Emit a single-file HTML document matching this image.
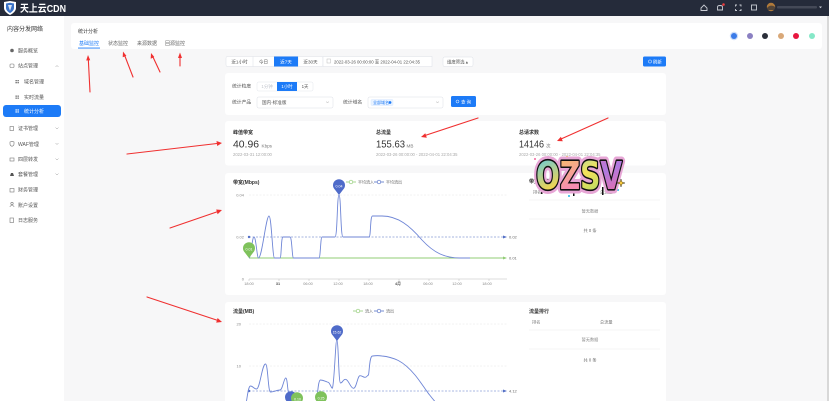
<!DOCTYPE html>
<html><head><meta charset="utf-8">
<style>
html,body{margin:0;padding:0;width:829px;height:401px;overflow:hidden;background:#f7f7f8}
svg{display:block}
text{font-family:"Liberation Sans","Noto Sans CJK SC",sans-serif}
</style></head>
<body>
<svg width="829" height="401" viewBox="0 0 829 401" xmlns="http://www.w3.org/2000/svg">
<defs>
  <linearGradient id="gO" x1="0" y1="0" x2="1" y2="1">
    <stop offset="0" stop-color="#55c8ee"/><stop offset="0.5" stop-color="#f7d54a"/><stop offset="1" stop-color="#55c8ee"/>
  </linearGradient>
  <linearGradient id="gZ" x1="0" y1="0" x2="1" y2="1">
    <stop offset="0" stop-color="#f7d54a"/><stop offset="0.6" stop-color="#f58bb5"/><stop offset="1" stop-color="#f7d54a"/>
  </linearGradient>
  <linearGradient id="gS" x1="0" y1="0" x2="1" y2="1">
    <stop offset="0" stop-color="#6fc7f2"/><stop offset="0.5" stop-color="#f3e35a"/><stop offset="1" stop-color="#8fd36a"/>
  </linearGradient>
  <linearGradient id="gV" x1="0" y1="0" x2="1" y2="1">
    <stop offset="0" stop-color="#f56a9c"/><stop offset="0.6" stop-color="#b07ae0"/><stop offset="1" stop-color="#f56a9c"/>
  </linearGradient>
</defs>

<rect width="829" height="401" fill="#f7f7f8"/>
<rect x="827" y="16" width="2" height="385" fill="#d8d8d8"/>

<!-- top bar -->
<rect width="829" height="16" fill="#252b3a"/>
<path d="M4,2 L10,1 L16,2 L16,8 C16,11 13,13.5 10,15 C7,13.5 4,11 4,8 Z" fill="#fff"/>
<path d="M6,3.5 L10,2.8 L14,3.5 L14,8 C14,10 12,12 10,13 C8,12 6,10 6,8 Z" fill="#3a73c8"/>
<path d="M8,5 L12,5 L10,11 Z" fill="#fff" opacity="0.8"/>
<text x="20" y="11.8" font-size="10" fill="#fff" font-weight="bold" textLength="46" lengthAdjust="spacingAndGlyphs">天上云CDN</text>
<!-- right icons -->
<g fill="none" stroke="#c9ccd4" stroke-width="0.9">
  <path d="M701,8 L704,5 L707,8 L707,10.5 L701,10.5 Z"/>
  <path d="M717.5,10 L717.5,7 C717.5,5 722.5,5 722.5,7 L722.5,10 Z"/>
  <path d="M735.5,6.5 L735.5,5 L737,5 M739.5,5 L741,5 L741,6.5 M741,9 L741,10.5 L739.5,10.5 M737,10.5 L735.5,10.5 L735.5,9"/>
  <rect x="751.5" y="5" width="5" height="5"/>
</g>
<circle cx="723.5" cy="4.5" r="1.3" fill="#f03c3c"/>
<circle cx="771" cy="7" r="4.2" fill="#b07a3a"/>
<path d="M767,8 C769,5 773,5 775,7 L775,10 L767,10 Z" fill="#2c2f38" opacity="0.7"/>
<rect x="777" y="6" width="40" height="2.5" rx="1" fill="#5a5e6a" opacity="0.6"/>
<path d="M819,6.5 L822,6.5 L820.5,8.2 Z" fill="#c9ccd4"/>

<!-- sidebar -->
<rect x="0" y="16" width="64" height="385" fill="#fff"/>
<text x="7" y="31" font-size="6" fill="#333">内容分发网络</text>
<g font-size="5" fill="#555">
  <circle cx="12" cy="50.5" r="1.8" fill="#666"/>
  <text x="18" y="52.5">服务概览</text>
  <rect x="10" y="64" width="4" height="3.5" rx="0.8" fill="none" stroke="#777" stroke-width="0.6"/>
  <text x="18" y="67.5">站点管理</text>
  <path d="M55.5,67 L57,65.5 L58.5,67" fill="none" stroke="#999" stroke-width="0.5"/>
  <g fill="#666"><rect x="15.5" y="80" width="1.3" height="1.3"/><rect x="17.5" y="80" width="1.3" height="1.3"/><rect x="15.5" y="82" width="1.3" height="1.3"/><rect x="17.5" y="82" width="1.3" height="1.3"/></g>
  <text x="24" y="83.5">域名管理</text>
  <g fill="#666"><rect x="15.5" y="95.5" width="1.3" height="1.3"/><rect x="17.5" y="95.5" width="1.3" height="1.3"/><rect x="15.5" y="97.5" width="1.3" height="1.3"/><rect x="17.5" y="97.5" width="1.3" height="1.3"/></g>
  <text x="24" y="99">实时流量</text>
</g>
<rect x="3" y="105" width="58" height="12" rx="3" fill="#1d7bf7"/>
<g fill="#fff"><rect x="15.5" y="109.3" width="1.3" height="1.3"/><rect x="17.5" y="109.3" width="1.3" height="1.3"/><rect x="15.5" y="111.3" width="1.3" height="1.3"/><rect x="17.5" y="111.3" width="1.3" height="1.3"/></g>
<text x="24" y="113" font-size="5" fill="#fff">统计分析</text>
<g font-size="5" fill="#555">
  <rect x="10" y="126.5" width="3.5" height="4" fill="none" stroke="#777" stroke-width="0.6"/>
  <text x="18" y="130">证书管理</text>
  <path d="M55.5,127.5 L57,129 L58.5,127.5" fill="none" stroke="#999" stroke-width="0.5"/>
  <path d="M10,142 L12,141.3 L14,142 L14,144 C14,145 13,146 12,146.3 C11,146 10,145 10,144 Z" fill="none" stroke="#777" stroke-width="0.6"/>
  <text x="18" y="146">WAF管理</text>
  <path d="M55.5,143 L57,144.5 L58.5,143" fill="none" stroke="#999" stroke-width="0.5"/>
  <rect x="10" y="158" width="4" height="3" fill="none" stroke="#777" stroke-width="0.6"/>
  <text x="18" y="161">四层转发</text>
  <path d="M55.5,158.5 L57,160 L58.5,158.5" fill="none" stroke="#999" stroke-width="0.5"/>
  <path d="M10,176 L11,173 L13,173 L14,176 Z" fill="#555"/>
  <text x="18" y="176">套餐管理</text>
  <path d="M55.5,173.5 L57,175 L58.5,173.5" fill="none" stroke="#999" stroke-width="0.5"/>
  <rect x="10" y="188.5" width="4" height="3.5" fill="none" stroke="#777" stroke-width="0.6"/>
  <text x="18" y="191.5">财务管理</text>
  <circle cx="12" cy="203.5" r="1.2" fill="none" stroke="#777" stroke-width="0.6"/>
  <path d="M10,207 C10,205 14,205 14,207" fill="none" stroke="#777" stroke-width="0.6"/>
  <text x="18" y="207">账户设置</text>
  <rect x="10" y="218" width="3.5" height="4.5" fill="none" stroke="#777" stroke-width="0.6"/>
  <text x="18" y="222">日志服务</text>
</g>

<!-- header card -->
<rect x="71" y="23" width="751" height="26" rx="3" fill="#fff"/>
<text x="78" y="33" font-size="5" fill="#333">统计分析</text>
<text x="79" y="45" font-size="5" fill="#1d7bf7">基础监控</text>
<rect x="78" y="47.6" width="22" height="0.9" fill="#1d7bf7"/>
<text x="108" y="45" font-size="5" fill="#666">状态监控</text>
<text x="137" y="45" font-size="5" fill="#666">来源数据</text>
<text x="165" y="45" font-size="5" fill="#666">回源监控</text>
<circle cx="734" cy="36" r="4.2" fill="#3b7be8" opacity="0.25"/>
<circle cx="734" cy="36" r="3" fill="#3b7be8"/>
<circle cx="750" cy="36" r="3" fill="#8b80c2"/>
<circle cx="765" cy="36" r="3" fill="#2b2f3a"/>
<circle cx="781" cy="36" r="3" fill="#d9a878"/>
<circle cx="796" cy="36" r="3" fill="#e8163f"/>
<circle cx="812" cy="36" r="3" fill="#86e8c8"/>

<!-- filter row -->
<g font-size="4.6" text-anchor="middle">
  <rect x="226" y="56.5" width="97" height="10" rx="1.5" fill="#fff" stroke="#dcdfe6" stroke-width="0.5"/>
  <line x1="253" y1="56.5" x2="253" y2="66.5" stroke="#dcdfe6" stroke-width="0.5"/>
  <line x1="298" y1="56.5" x2="298" y2="66.5" stroke="#dcdfe6" stroke-width="0.5"/>
  <rect x="274" y="56.5" width="24" height="10" fill="#1d7bf7"/>
  <text x="239.5" y="63.3" fill="#555">近1小时</text>
  <text x="263.5" y="63.3" fill="#555">今日</text>
  <text x="286" y="63.3" fill="#fff">近7天</text>
  <text x="310.5" y="63.3" fill="#555">近30天</text>
</g>
<rect x="323" y="56.5" width="109" height="10" fill="#fff" stroke="#dcdfe6" stroke-width="0.5"/>
<rect x="327" y="59" width="3.5" height="4" fill="none" stroke="#bbb" stroke-width="0.5"/>
<text x="334" y="63.3" font-size="4.6" fill="#555" textLength="86" lengthAdjust="spacingAndGlyphs">2022-03-26 00:00:00 至 2022-04-01 22:04:35</text>
<rect x="443" y="57" width="30" height="9.5" rx="1.5" fill="#fff" stroke="#dcdfe6" stroke-width="0.5"/>
<text x="447" y="63.3" font-size="4.4" fill="#555">维度筛选 ▴</text>
<rect x="643" y="56.5" width="23" height="10" rx="1.5" fill="#1d7bf7"/>
<circle cx="650" cy="61.5" r="1.6" fill="none" stroke="#fff" stroke-width="0.5"/>
<text x="653" y="63.3" font-size="4.4" fill="#fff">刷新</text>

<!-- filter card -->
<rect x="225" y="73" width="441" height="42" rx="3" fill="#fff"/>
<text x="232" y="87.5" font-size="4.8" fill="#555">统计粒度</text>
<rect x="257" y="82" width="56" height="9" rx="1.5" fill="#fff" stroke="#e4e7ed" stroke-width="0.5"/>
<rect x="277" y="82" width="20" height="9" fill="#1d7bf7"/>
<g font-size="4.4" text-anchor="middle">
  <text x="267" y="88" fill="#c0c4cc">1分钟</text>
  <text x="287" y="88" fill="#fff">1小时</text>
  <text x="305" y="88" fill="#555">1天</text>
</g>
<text x="232" y="103.5" font-size="4.8" fill="#555">统计产品</text>
<rect x="257" y="97" width="76" height="11" rx="1.5" fill="#fff" stroke="#dcdfe6" stroke-width="0.5"/>
<text x="262" y="103.8" font-size="4.6" fill="#555">国内-标准版</text>
<path d="M326,101.5 L327.5,103 L329,101.5" fill="none" stroke="#aaa" stroke-width="0.5"/>
<text x="343" y="103.5" font-size="4.8" fill="#555">统计域名</text>
<rect x="368" y="97" width="75" height="11" rx="1.5" fill="#fff" stroke="#dcdfe6" stroke-width="0.5"/>
<rect x="371" y="99.5" width="22" height="6" rx="1" fill="#eaf3ff" stroke="#cfe3ff" stroke-width="0.4"/>
<text x="373" y="103.8" font-size="4" fill="#1d7bf7">全部域名</text>
<circle cx="390" cy="102.5" r="1.4" fill="#1d7bf7"/>
<path d="M436,101.5 L437.5,103 L439,101.5" fill="none" stroke="#aaa" stroke-width="0.5"/>
<rect x="451" y="96" width="25" height="11" rx="1.5" fill="#1d7bf7"/>
<circle cx="457.5" cy="101.5" r="1.5" fill="none" stroke="#fff" stroke-width="0.5"/>
<text x="461" y="103.5" font-size="4.4" fill="#fff">查 询</text>

<!-- summary card -->
<rect x="225" y="121" width="441" height="44.5" rx="3" fill="#fff"/>
<g fill="#333">
  <text x="233" y="134" font-size="5" font-weight="bold">峰值带宽</text>
  <text x="233" y="147.5" font-size="10.5" fill="#333" textLength="26" lengthAdjust="spacingAndGlyphs">40.96</text>
  <text x="261.5" y="147.5" font-size="4.6" fill="#777">Kbps</text>
  <text x="233" y="156" font-size="4.2" fill="#aaa">2022-03-31 12:00:00</text>

  <text x="376" y="134" font-size="5" font-weight="bold">总流量</text>
  <text x="376" y="147.5" font-size="10.5" fill="#333" textLength="29" lengthAdjust="spacingAndGlyphs">155.63</text>
  <text x="406.5" y="147.5" font-size="4.6" fill="#777">MB</text>
  <text x="376" y="156" font-size="4.2" fill="#aaa">2022-03-26 00:00:00 - 2022-04-01 22:04:35</text>

  <text x="519" y="134" font-size="5" font-weight="bold">总请求数</text>
  <text x="519" y="147.5" font-size="10.5" fill="#333" textLength="25" lengthAdjust="spacingAndGlyphs">14146</text>
  <text x="546" y="147.5" font-size="4.6" fill="#777">次</text>
  <text x="519" y="156" font-size="4.2" fill="#aaa">2022-03-26 00:00:00 - 2022-04-01 22:04:35</text>
</g>

<!-- chart card 1 -->
<rect x="225" y="173" width="441" height="122" rx="3" fill="#fff"/>
<text x="233" y="184" font-size="5" fill="#333" font-weight="bold">带宽(Mbps)</text>
<!-- legend -->
<line x1="346" y1="182" x2="356" y2="182" stroke="#91cc75" stroke-width="0.8"/>
<circle cx="351" cy="182" r="1.8" fill="#fff" stroke="#91cc75" stroke-width="0.7"/>
<text x="358" y="183.6" font-size="4" fill="#666">平均流入</text>
<line x1="374" y1="182" x2="384" y2="182" stroke="#5470c6" stroke-width="0.8"/>
<circle cx="379" cy="182" r="1.8" fill="#fff" stroke="#5470c6" stroke-width="0.7"/>
<text x="386" y="183.6" font-size="4" fill="#666">平均流出</text>
<!-- axes -->
<g font-size="4" fill="#888" text-anchor="end">
  <text x="244" y="196.5">0.04</text>
  <text x="244" y="238.5">0.02</text>
  <text x="244" y="280.5">0</text>
</g>
<line x1="249" y1="195" x2="507" y2="195" stroke="#e6e6e6" stroke-width="0.5" stroke-dasharray="2,1.5"/>
<line x1="249" y1="237" x2="507" y2="237" stroke="#eeeeee" stroke-width="0.5" stroke-dasharray="2,1.5"/>
<line x1="249" y1="279" x2="507" y2="279" stroke="#bbb" stroke-width="0.6"/>
<g stroke="#bbb" stroke-width="0.5">
  <line x1="249" y1="279" x2="249" y2="281"/><line x1="279" y1="279" x2="279" y2="281"/><line x1="309" y1="279" x2="309" y2="281"/>
  <line x1="339" y1="279" x2="339" y2="281"/><line x1="369" y1="279" x2="369" y2="281"/><line x1="399" y1="279" x2="399" y2="281"/>
  <line x1="429" y1="279" x2="429" y2="281"/><line x1="459" y1="279" x2="459" y2="281"/><line x1="489" y1="279" x2="489" y2="281"/>
</g>
<g font-size="3.8" fill="#888" text-anchor="middle">
  <text x="249" y="285">18:00</text><text x="278" y="285" font-weight="bold" fill="#555">31</text><text x="308" y="285">06:00</text>
  <text x="338" y="285">12:00</text><text x="368" y="285">18:00</text><text x="398" y="285" font-weight="bold" fill="#555">4月</text>
  <text x="428" y="285">06:00</text><text x="457" y="285">12:00</text><text x="487" y="285">18:00</text>
</g>
<!-- green series -->
<line x1="249" y1="258" x2="505" y2="258" stroke="#91cc75" stroke-width="1"/>
<line x1="249" y1="258" x2="505" y2="258" stroke="#91cc75" stroke-width="0.5" stroke-dasharray="2,1.5"/>
<path d="M503,256.5 L507,258 L503,259.5 Z" fill="#91cc75"/>
<text x="509" y="259.5" font-size="4" fill="#666">0.01</text>
<!-- blue markline -->
<line x1="249" y1="237" x2="505" y2="237" stroke="#5470c6" stroke-width="0.5" stroke-dasharray="2,1.5"/>
<circle cx="249" cy="237" r="1.2" fill="#5470c6"/>
<path d="M503,235.5 L507,237 L503,238.5 Z" fill="#5470c6"/>
<text x="509" y="238.5" font-size="4" fill="#666">0.02</text>
<!-- blue series -->
<path d="M249,258 C251,258 252,237 254,237 C256,237 257,258 258.5,258 C262,258 266,216 269,216 C271.5,216 272.5,258 274.5,258 L280,258 C281.5,258 281,237 283,237 L290,237 C292,237 292,258 293.5,258 L319,258 C320.5,258 320.5,237 322,237 L335,237 C337.5,237 337,195 339,195 C341,195 340.5,237 343,237 L369,237 C371,237 370,216 372.5,216 L382,216 C398,216 410,226 422,240 C434,253 445,258 460,258 L470,258" fill="none" stroke="#6f86d6" stroke-width="0.9"/>
<!-- pins -->
<path d="M339,195 L334.8,189.5 A6,6 0 1,1 343.2,189.5 Z" fill="#4f6bc9"/>
<text x="339" y="187.5" font-size="3.6" fill="#fff" text-anchor="middle">0.04</text>
<path d="M249,258 L244.8,252.5 A6,6 0 1,1 253.2,252.5 Z" fill="#7fc25c"/>
<text x="249" y="250.5" font-size="3.6" fill="#fff" text-anchor="middle">0.01</text>
<!-- table 1 -->
<text x="529" y="183" font-size="5" fill="#333" font-weight="bold">带宽排行</text>
<text x="533" y="193.5" font-size="4.2" fill="#777">排名</text>
<text x="600" y="193.5" font-size="4.2" fill="#777">总流量</text>
<line x1="529" y1="200" x2="660" y2="200" stroke="#eee" stroke-width="0.6"/>
<text x="590" y="212.5" font-size="4.2" fill="#888" text-anchor="middle">暂无数据</text>
<line x1="529" y1="219" x2="660" y2="219" stroke="#eee" stroke-width="0.6"/>
<text x="590" y="232" font-size="4.2" fill="#666" text-anchor="middle">共 0 条</text>

<!-- chart card 2 -->
<rect x="225" y="302" width="441" height="110" rx="3" fill="#fff"/>
<text x="233" y="313" font-size="5" fill="#333" font-weight="bold">流量(MB)</text>
<line x1="353" y1="311" x2="363" y2="311" stroke="#91cc75" stroke-width="0.8"/>
<circle cx="358" cy="311" r="1.8" fill="#fff" stroke="#91cc75" stroke-width="0.7"/>
<text x="365" y="312.6" font-size="4" fill="#666">流入</text>
<line x1="374" y1="311" x2="384" y2="311" stroke="#5470c6" stroke-width="0.8"/>
<circle cx="379" cy="311" r="1.8" fill="#fff" stroke="#5470c6" stroke-width="0.7"/>
<text x="386" y="312.6" font-size="4" fill="#666">流出</text>
<g font-size="4" fill="#888" text-anchor="end">
  <text x="241" y="325.5">20</text>
  <text x="241" y="367.5">10</text>
</g>
<line x1="249" y1="324" x2="507" y2="324" stroke="#e6e6e6" stroke-width="0.5" stroke-dasharray="2,1.5"/>
<line x1="249" y1="366" x2="507" y2="366" stroke="#e6e6e6" stroke-width="0.5" stroke-dasharray="2,1.5"/>
<line x1="249" y1="391" x2="505" y2="391" stroke="#5470c6" stroke-width="0.5" stroke-dasharray="2,1.5"/>
<circle cx="249" cy="391" r="1.2" fill="#5470c6"/>
<path d="M503,389.5 L507,391 L503,392.5 Z" fill="#5470c6"/>
<text x="509" y="392.5" font-size="4" fill="#666">4.12</text>
<path d="M246.5,401 C247.5,395 248.5,386 250.5,386 C253,386 254,389 256.5,389 C260,389 262,364 265.5,364 C268,364 268,392 270.5,392 C274,392 277,390 280,390 C282.5,390 284,378 285.7,378 C287.5,378 287.5,391 288.5,392 C289.5,396 289.8,401 290,404 M316.5,404 C317.5,396 318,380 320.5,380 C324,380 326,382 328.3,382.3 C330,383 331.5,389 332.5,388 C334.5,380 335.5,340 336.8,340 C338.5,340 338.5,383 340.5,383 C342.5,383 343,379.3 345.5,379.3 C348.5,379.3 350.5,388.3 353.5,388.3 C356.5,388.3 357.5,375.7 360,375.7 C362.5,375.7 363,377.3 365,377.3 C367,377.3 367.5,375 368.5,375 C369.5,370 369.5,356 372.5,356 C376,355.5 379,355.5 382,356 C388,356.5 393,358 398.3,360.5 C405,364 410,369 415,375 C420,381 425,389 428.3,393.3 C432,398 435,402 438.3,405" fill="none" stroke="#6f86d6" stroke-width="0.9"/>
<path d="M337,341 L332.8,335.5 A6,6 0 1,1 341.2,335.5 Z" fill="#4f6bc9"/>
<text x="337" y="333.5" font-size="3.5" fill="#fff" text-anchor="middle">15.62</text>
<path d="M291,407 L286.8,401.5 A6,6 0 1,1 295.2,401.5 Z" fill="#4f6bc9"/>
<path d="M297,408 L292.8,402.5 A6,6 0 1,1 301.2,402.5 Z" fill="#7fc25c"/>
<text x="297.5" y="400.5" font-size="3.5" fill="#fff" text-anchor="middle">0.10</text>
<path d="M321,407 L316.8,401.5 A6,6 0 1,1 325.2,401.5 Z" fill="#7fc25c"/>
<text x="321" y="399.5" font-size="3.5" fill="#fff" text-anchor="middle">0.25</text>
<!-- table 2 -->
<text x="529" y="313" font-size="5" fill="#333" font-weight="bold">流量排行</text>
<text x="532" y="323.5" font-size="4.2" fill="#777">排名</text>
<text x="600" y="323.5" font-size="4.2" fill="#777">总流量</text>
<line x1="529" y1="330" x2="660" y2="330" stroke="#eee" stroke-width="0.6"/>
<text x="590" y="341" font-size="4.2" fill="#888" text-anchor="middle">暂无数据</text>
<line x1="529" y1="349" x2="660" y2="349" stroke="#eee" stroke-width="0.6"/>
<text x="590" y="361.5" font-size="4.2" fill="#666" text-anchor="middle">共 0 条</text>

<!-- sticker -->
<g>
  <rect x="534" y="158" width="2" height="2" fill="#f58bb5"/>
  <rect x="566" y="156" width="2" height="2" fill="#f7d54a"/>
  <rect x="604" y="157" width="2" height="2" fill="#55c8ee"/>
  <rect x="568" y="195" width="2" height="2" fill="#55c8ee"/>
  <rect x="617" y="189" width="2" height="2" fill="#55c8ee"/>
  <g fill="#111">
    <rect x="541" y="186" width="1.5" height="8"/><rect x="553" y="186" width="1.5" height="6"/>
    <rect x="573" y="187" width="1.5" height="9"/><rect x="590" y="187" width="1.5" height="6"/>
    <rect x="602" y="187" width="1.5" height="8"/>
  </g>
  <text x="536" y="189" font-size="38" font-weight="bold" textLength="86" lengthAdjust="spacingAndGlyphs" fill="#e7a6d6" stroke="#e7a6d6" stroke-width="9" stroke-linejoin="round" style="font-family:'DejaVu Sans',sans-serif">OZSV</text>
  <text x="536" y="189" font-size="38" font-weight="bold" textLength="86" lengthAdjust="spacingAndGlyphs" stroke="#111" stroke-width="3.2" stroke-linejoin="round" paint-order="stroke" style="font-family:'DejaVu Sans',sans-serif"><tspan fill="url(#gO)">O</tspan><tspan fill="url(#gZ)">Z</tspan><tspan fill="url(#gS)">S</tspan><tspan fill="url(#gV)">V</tspan></text>
  <path d="M621,179 L622,182 L625,183 L622,184 L621,187 L620,184 L617,183 L620,182 Z" fill="#f7c93a" stroke="#111" stroke-width="0.4"/>
</g>

<!-- red arrows -->
<g stroke="#f03030" stroke-width="1.1" fill="none" stroke-linecap="round">
  <line x1="90" y1="92" x2="88.3" y2="59"/>
  <line x1="133" y1="77" x2="124.5" y2="55"/>
  <line x1="160" y1="72" x2="152.5" y2="56"/>
  <line x1="180" y1="66" x2="180" y2="56"/>
  <line x1="127" y1="154" x2="217" y2="143.5"/>
  <line x1="170" y1="228" x2="218" y2="211.5"/>
  <line x1="147" y1="297" x2="218" y2="320.5"/>
  <line x1="478" y1="118" x2="425" y2="135.5"/>
  <line x1="608" y1="118" x2="561" y2="139"/>
</g>
<g fill="#f03030">
  <polygon points="88,55 86.2,60.5 90.2,60.3"/>
  <polygon points="123,51.5 122.7,57.3 126.4,55.9"/>
  <polygon points="151,53 150.7,58.7 154.3,57"/>
  <polygon points="180,52.5 178,58 182,58"/>
  <polygon points="222,143 216.5,141 217.2,146"/>
  <polygon points="222,210 216.2,209.5 217.6,214.2"/>
  <polygon points="222,322 217.6,318 216.2,322.6"/>
  <polygon points="421,137 426.8,137.8 425.3,133.2"/>
  <polygon points="557,141 562.8,141.3 560.9,136.8"/>
</g>
</svg>
</body></html>
